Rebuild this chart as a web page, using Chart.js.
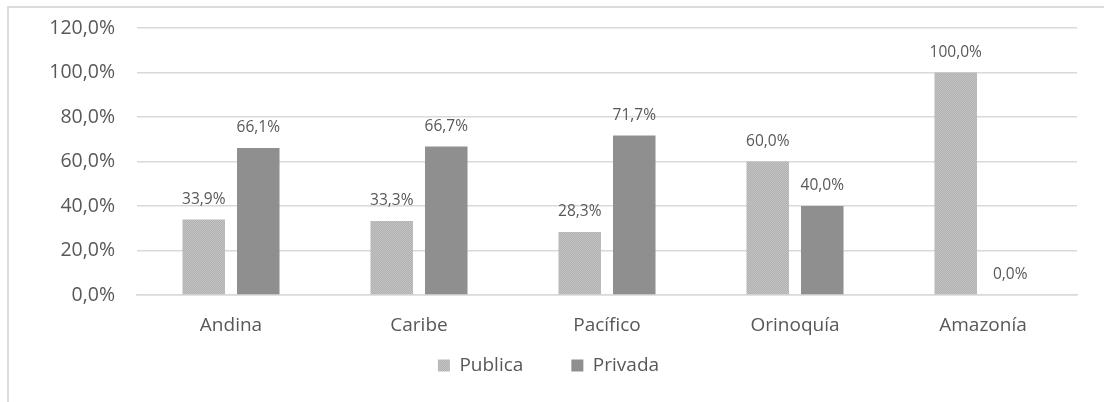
<!DOCTYPE html>
<html>
<head>
<meta charset="utf-8">
<script src="https://cdn.jsdelivr.net/npm/chart.js@4.4.1/dist/chart.umd.min.js"></script>
<style>
  html, body { margin: 0; padding: 0; background: #ffffff; }
  #wrap { width: 1104px; height: 402px; position: relative; }
</style>
</head>
<body>
<div id="wrap"><canvas id="c" width="1104" height="402"></canvas></div>
<script>
const categories = ['Andina', 'Caribe', 'Pacífico', 'Orinoquía', 'Amazonía'];
const seriesNames = ['Publica', 'Privada'];
const publica = [33.9, 33.3, 28.3, 60.0, 100.0];
const privada = [66.1, 66.7, 71.7, 40.0, 0.0];
const yTickValues = [0, 20, 40, 60, 80, 100, 120];

const fmt = v => Number(v).toFixed(1).replace('.', ',') + '%';
const textColor = '#585858';
const fontFamily = '"Open Sans", sans-serif';

function dotPattern() {
  const pc = document.createElement('canvas');
  pc.width = 2; pc.height = 2;
  const p = pc.getContext('2d');
  p.fillStyle = '#c4c4c4'; p.fillRect(0, 0, 2, 2);
  p.fillStyle = '#b0b0b0'; p.fillRect(1, 0, 1, 1); p.fillRect(0, 1, 1, 1);
  return document.getElementById('c').getContext('2d').createPattern(pc, 'repeat');
}

const frame = {
  id: 'frame',
  beforeDraw(chart) {
    const ctx = chart.ctx;
    ctx.save();
    ctx.strokeStyle = '#dcdcdc';
    ctx.lineWidth = 2;
    ctx.beginPath();
    ctx.moveTo(8, 402);
    ctx.lineTo(8, 7);
    ctx.lineTo(1104, 7);
    ctx.stroke();
    ctx.restore();
  }
};

// Legend: keep wide horizontal spacing between items, but a compact box height
const legendTune = {
  id: 'legendTune',
  afterInit(chart) {
    const L = chart.legend;
    if (!L) return;
    const origFit = L.fit;
    L.fit = function () { origFit.call(this); this.height = 54; };
    const origDraw = L.draw;
    L.draw = function () {
      const t = this.top;
      this.top = t - 40;
      origDraw.call(this);
      this.top = t;
    };
  }
};

const valueLabels = {
  id: 'valueLabels',
  afterDatasetsDraw(chart) {
    const ctx = chart.ctx;
    ctx.save();
    ctx.font = '15.5px ' + fontFamily;
    ctx.fillStyle = textColor;
    ctx.textAlign = 'center';
    ctx.textBaseline = 'middle';
    chart.data.datasets.forEach((ds, i) => {
      const meta = chart.getDatasetMeta(i);
      meta.data.forEach((el, j) => {
        ctx.fillText(fmt(ds.data[j]), el.x, el.y - 20);
      });
    });
    ctx.restore();
  }
};

new Chart(document.getElementById('c'), {
  type: 'bar',
  data: {
    labels: categories,
    datasets: [
      { label: seriesNames[0], data: publica, backgroundColor: dotPattern(),
        categoryPercentage: 0.58, barPercentage: 0.78 },
      { label: seriesNames[1], data: privada, backgroundColor: '#8f8f8f',
        categoryPercentage: 0.58, barPercentage: 0.78 }
    ]
  },
  options: {
    responsive: false,
    animation: false,
    devicePixelRatio: 1,
    layout: { padding: { left: 20, right: 27, top: 28, bottom: 0 } },
    plugins: {
      legend: {
        position: 'bottom',
        labels: {
          color: textColor,
          font: { family: fontFamily, size: 19 },
          boxWidth: 12, boxHeight: 12,
          padding: 48
        }
      },
      tooltip: { enabled: false }
    },
    scales: {
      x: {
        grid: { display: false, drawTicks: false },
        border: { display: true, color: '#d9d9d9', width: 1.5 },
        ticks: { color: textColor, font: { family: fontFamily, size: 19 }, padding: 19,
                 autoSkip: false, maxRotation: 0 },
        afterFit(s) { s.height = 53; }
      },
      y: {
        min: 0, max: 120,
        afterBuildTicks(s) { s.ticks = yTickValues.map(v => ({ value: v })); },
        grid: { color: '#d9d9d9', lineWidth: 1.5, drawTicks: false },
        border: { display: false },
        ticks: { color: textColor, font: { family: fontFamily, size: 19.5 }, padding: 22,
                 callback: v => fmt(v) },
        afterFit(s) { s.width = 117; s.paddingTop = 0; s.paddingBottom = 0; }
      }
    }
  },
  plugins: [frame, legendTune, valueLabels]
});
</script>
</body>
</html>
